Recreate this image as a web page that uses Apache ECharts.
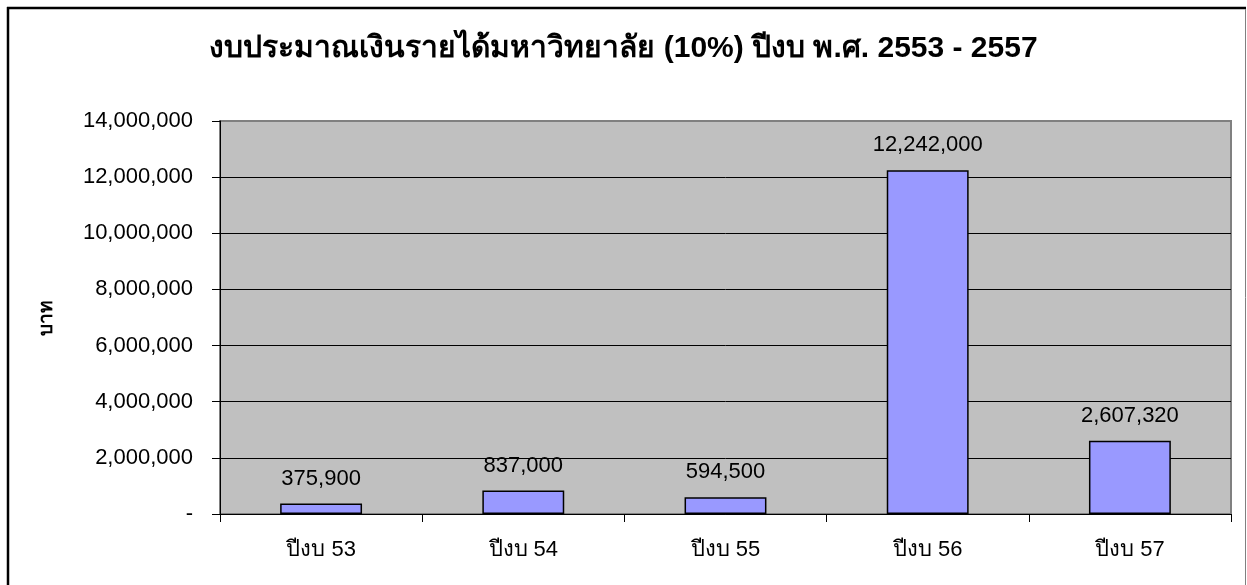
<!DOCTYPE html>
<html><head><meta charset="utf-8">
<script src="https://cdn.jsdelivr.net/npm/echarts@6/dist/echarts.min.js"></script>
<style>html,body{margin:0;padding:0;background:#fff}#c{width:1247px;height:585px}</style>
</head><body><div id="c"></div>
<script>
var title = 'งบประมาณเงินรายได้มหาวิทยาลัย (10%) ปีงบ พ.ศ. 2553 - 2557';
var categories = ['ปีงบ 53', 'ปีงบ 54', 'ปีงบ 55', 'ปีงบ 56', 'ปีงบ 57'];
var values = [375900, 837000, 594500, 12242000, 2607320];
var yAxisName = 'บาท';

function fmt(v){ return v === 0 ? '-' : v.toLocaleString('en-US'); }

var chart = echarts.init(document.getElementById('c'));
chart.setOption({
  animation: false,
  backgroundColor: '#fff',
  title: {
    text: title, left: 'center', top: 29,
    textStyle: { fontFamily: 'Arial, sans-serif', fontSize: 30, fontWeight: 'bold', color: '#000' }
  },
  grid: { left: 220, top: 121, right: 16, bottom: 71, show: true, backgroundColor: '#C0C0C0', borderColor: '#808080', borderWidth: 2 },
  xAxis: {
    type: 'category', data: categories,
    axisLine: { lineStyle: { color: '#000', width: 1 } },
    axisTick: { show: true, alignWithLabel: false, length: 8, lineStyle: { color: '#000' } },
    axisLabel: { color: '#000', fontSize: 22, fontFamily: 'Arial, sans-serif', margin: 25 },
  },
  yAxis: {
    type: 'value', min: 0, max: 14000000, interval: 2000000,
    name: yAxisName, nameLocation: 'middle', nameRotate: 90, nameGap: 164,
    nameTextStyle: { color: '#000', fontSize: 19, fontWeight: 'bold', fontFamily: 'Arial, sans-serif' },
    axisLine: { show: true, lineStyle: { color: '#000', width: 1 } },
    axisTick: { show: true, length: 8, lineStyle: { color: '#000' } },
    axisLabel: { color: '#000', fontSize: 22, fontFamily: 'Arial, sans-serif', margin: 27, formatter: fmt },
    splitLine: { lineStyle: { color: ['#000','#000','#000','#000','#000','#000','#000','#808080'], width: 1 } }
  },
  series: [{
    type: 'bar', data: values, barWidth: '40.5%',
    itemStyle: { color: '#9999FF', borderColor: '#000', borderWidth: 1.5 },
    label: { show: true, position: 'top', distance: 14, color: '#000', fontSize: 22, fontFamily: 'Arial, sans-serif', formatter: function(p){ return fmt(p.value); } }
  }],
  graphic: [
    { type: 'line', shape: { x1: 8, y1: 7, x2: 8, y2: 600 }, style: { stroke: '#000', lineWidth: 2.5 } },
    { type: 'line', shape: { x1: 7, y1: 8, x2: 1246, y2: 8 }, style: { stroke: '#000', lineWidth: 2.5 } },
    { type: 'line', shape: { x1: 1245.5, y1: 9, x2: 1245.5, y2: 600 }, style: { stroke: '#808080', lineWidth: 1 } }
  ]
});
</script></body></html>
